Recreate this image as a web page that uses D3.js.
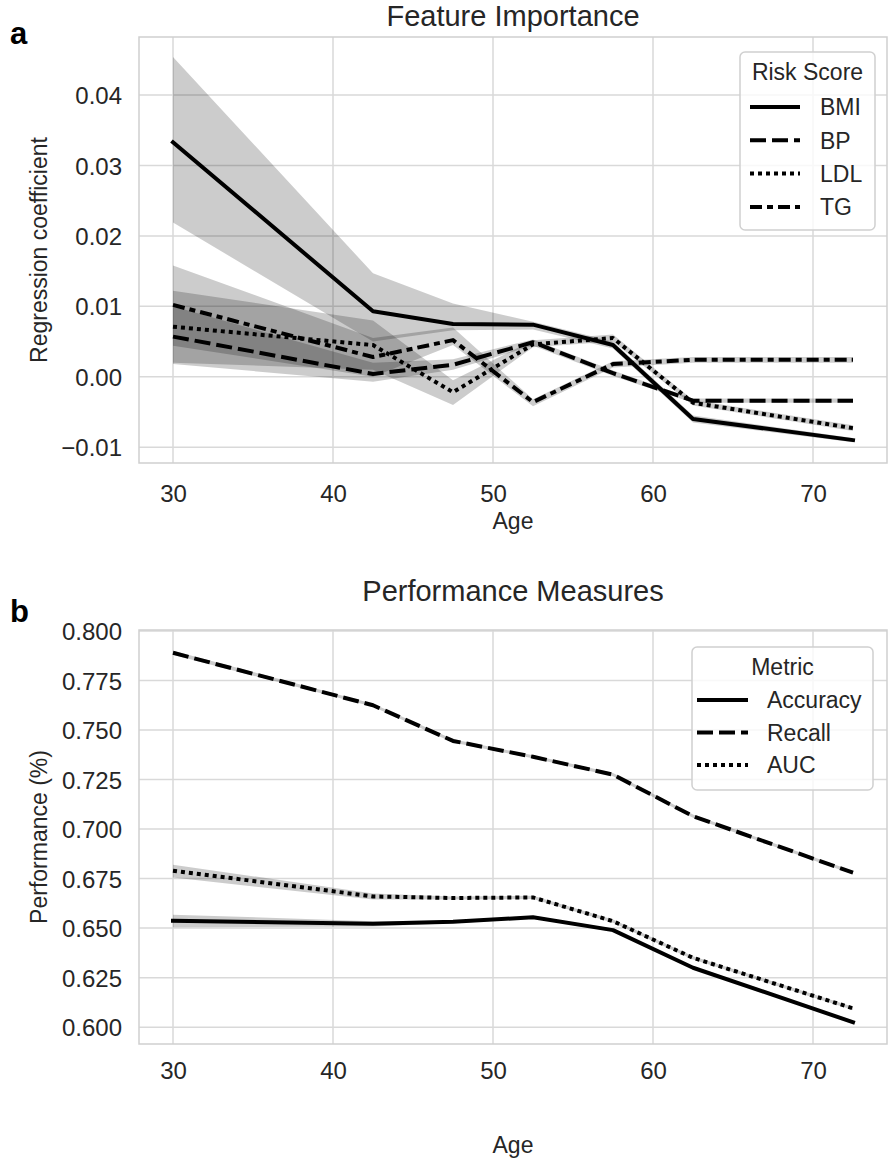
<!DOCTYPE html>
<html><head><meta charset="utf-8">
<script src="https://cdn.jsdelivr.net/npm/d3@7"></script>
<style>body{margin:0;background:#fff}svg{display:block}text{font-family:"Liberation Sans",Arial,sans-serif;fill:#262626}</style>
</head><body>
<script>
// ---------- data ----------
const ages = [30, 42.5, 47.5, 52.5, 57.5, 62.5, 72.5];
const xTicks = [30, 40, 50, 60, 70];

const riskNames = ["BMI", "BP", "LDL", "TG"];
const bmi   = [0.0333, 0.0093, 0.0075, 0.0074, 0.0045, -0.0060, -0.0090];
const bp    = [0.0057, 0.0004, 0.0017, 0.0049, 0.0005, -0.0034, -0.0034];
const ldl   = [0.0071, 0.0045, -0.0022, 0.0046, 0.0055, -0.0037, -0.0073];
const tg    = [0.0102, 0.0028, 0.0052, -0.0036, 0.0018, 0.0024, 0.0024];
const bmiLo = [0.0219, 0.0050, 0.0066, 0.0067, 0.0040, -0.0065, -0.0093];
const bmiHi = [0.0454, 0.0147, 0.0104, 0.0078, 0.0050, -0.0055, -0.0087];
const bpLo  = [0.0018, -0.0007, 0.0010, 0.0044, 0.0001, -0.0037, -0.0037];
const bpHi  = [0.0100, 0.0020, 0.0025, 0.0053, 0.0009, -0.0031, -0.0031];
const ldlLo = [0.0020, 0.0010, -0.0040, 0.0042, 0.0050, -0.0041, -0.0077];
const ldlHi = [0.0122, 0.0080, -0.0005, 0.0052, 0.0060, -0.0033, -0.0069];
const tgLo  = [0.0044, 0.0000, 0.0045, -0.0042, 0.0013, 0.0020, 0.0020];
const tgHi  = [0.0158, 0.0055, 0.0070, -0.0032, 0.0022, 0.0028, 0.0028];
const yTicksA = [-0.01, 0.00, 0.01, 0.02, 0.03, 0.04];

const metricNames = ["Accuracy", "Recall", "AUC"];
const accuracy = [0.6537, 0.6522, 0.6532, 0.6555, 0.6490, 0.6300, 0.6025];
const recall   = [0.7890, 0.7625, 0.7445, 0.7365, 0.7275, 0.7065, 0.6780];
const auc      = [0.6790, 0.6660, 0.6652, 0.6655, 0.6535, 0.6350, 0.6095];
const accLo = [0.6505, 0.6508, 0.6525, 0.6548, 0.6483, 0.6293, 0.6018];
const accHi = [0.6568, 0.6535, 0.6539, 0.6562, 0.6497, 0.6307, 0.6032];
const recLo = [0.7880, 0.7617, 0.7437, 0.7357, 0.7267, 0.7057, 0.6772];
const recHi = [0.7900, 0.7633, 0.7453, 0.7373, 0.7283, 0.7073, 0.6788];
const aucLo = [0.6755, 0.6645, 0.6644, 0.6647, 0.6527, 0.6342, 0.6087];
const aucHi = [0.6820, 0.6675, 0.6660, 0.6663, 0.6543, 0.6358, 0.6103];
const yTicksB = [0.600, 0.625, 0.650, 0.675, 0.700, 0.725, 0.750, 0.775, 0.800];

// ---------- styles ----------
const LW = 4;
const dashes = {solid: null, dash: `${4*LW} ${1.5*LW}`, dot: `${1*LW} ${1*LW}`, dashdot: `${3*LW} ${1.25*LW} ${1.5*LW} ${1.25*LW}`};

const W = 889, H = 1159;
const svg = d3.select("body").append("svg").attr("width", W).attr("height", H);

function panel(cfg) {
  const {left, right, top, bottom, yDomain, yTicks, yFmt, series, title, titleY, ylab, ylabX, letter, letterY, xlabY, tickY, legend} = cfg;
  const x = d3.scaleLinear().domain([27.875, 74.625]).range([left, right]);
  const y = d3.scaleLinear().domain(yDomain).range([bottom, top]);
  const g = svg.append("g");
  const clipId = "clip" + letter;
  svg.append("clipPath").attr("id", clipId).append("rect").attr("x", left).attr("y", top).attr("width", right - left).attr("height", bottom - top);

  // grid
  g.append("g").selectAll("line").data(xTicks).join("line")
    .attr("x1", d => x(d)).attr("x2", d => x(d)).attr("y1", top).attr("y2", bottom)
    .attr("stroke", "#d9d9d9").attr("stroke-width", 1.5);
  g.append("g").selectAll("line").data(yTicks.filter(t => t >= yDomain[0] && t <= yDomain[1])).join("line")
    .attr("x1", left).attr("x2", right).attr("y1", d => y(d)).attr("y2", d => y(d))
    .attr("stroke", "#d9d9d9").attr("stroke-width", 1.5);
  // frame
  g.append("rect").attr("x", left).attr("y", top).attr("width", right - left).attr("height", bottom - top)
    .attr("fill", "none").attr("stroke", "#cfcfcf").attr("stroke-width", 1.5);

  // axes tick labels via d3 axes
  const ax = d3.axisBottom(x).tickValues(xTicks).tickSize(0).tickPadding(0).tickFormat(d3.format("d"));
  const axg = g.append("g").attr("transform", `translate(0,${tickY})`).call(ax);
  axg.select(".domain").remove();
  axg.selectAll("text").attr("font-size", 24).attr("dy", 0).attr("fill", "#262626");
  const ay = d3.axisLeft(y).tickValues(yTicks).tickSize(0).tickPadding(0).tickFormat(yFmt);
  const ayg = g.append("g").attr("transform", `translate(${left - 17},0)`).call(ay);
  ayg.select(".domain").remove();
  ayg.selectAll("text").attr("font-size", 24).attr("dy", "0.36em").attr("fill", "#262626");

  // bands
  const area = d3.area().x(d => x(d.a)).y0(d => y(d.lo)).y1(d => y(d.hi));
  const line = d3.line().x(d => x(d.a)).y(d => y(d.v));
  const pg = g.append("g").attr("clip-path", `url(#${clipId})`);
  series.forEach(s => {
    pg.append("path").datum(ages.map((a, i) => ({a, lo: s.lo[i], hi: s.hi[i]})))
      .attr("d", area).attr("fill", "#000").attr("fill-opacity", 0.2).attr("stroke", "none");
  });
  series.forEach(s => {
    pg.append("path").datum(ages.map((a, i) => ({a, v: s.v[i]})))
      .attr("d", line).attr("fill", "none").attr("stroke", "#000").attr("stroke-width", LW)
      .attr("stroke-dasharray", dashes[s.style]).attr("stroke-linejoin", "round")
      .attr("stroke-linecap", s.style === "solid" ? "square" : "butt");
  });

  // title / labels
  svg.append("text").attr("x", (left + right) / 2).attr("y", titleY).attr("text-anchor", "middle").attr("font-size", 29).text(title);
  svg.append("text").attr("x", (left + right) / 2).attr("y", xlabY).attr("text-anchor", "middle").attr("font-size", 23).text("Age");
  svg.append("text").attr("transform", `translate(${ylabX},${(top + bottom) / 2}) rotate(-90)`).attr("text-anchor", "middle").attr("font-size", 23).text(ylab);
  svg.append("text").attr("x", 10).attr("y", letterY).attr("font-size", 31).attr("font-weight", "bold").style("fill", "#000").text(letter);

  // legend
  const L = legend;
  const lg = svg.append("g");
  lg.append("rect").attr("x", L.x).attr("y", L.y).attr("width", L.w).attr("height", L.h).attr("rx", 5)
    .attr("fill", "#fff").attr("fill-opacity", 0.8).attr("stroke", "#d0d0d0").attr("stroke-width", 1.5);
  lg.append("text").attr("x", L.x + L.w / 2).attr("y", L.titleY).attr("text-anchor", "middle").attr("font-size", 23).text(L.title);
  series.forEach((s, i) => {
    const yy = L.firstY + i * L.step;
    lg.append("line").attr("x1", L.lx1).attr("x2", L.lx2).attr("y1", yy).attr("y2", yy)
      .attr("stroke", "#000").attr("stroke-width", LW).attr("stroke-dasharray", dashes[s.style]);
    lg.append("text").attr("x", L.tx).attr("y", yy).attr("dy", "0.36em").attr("font-size", 23).text(s.name);
  });
}

panel({
  left: 139, right: 887, top: 37, bottom: 463,
  yDomain: [-0.01225, 0.04825], yTicks: yTicksA,
  yFmt: d => (d < 0 ? "\u2212" : "") + d3.format(".2f")(Math.abs(d)),
  series: [
    {name: riskNames[0], v: bmi, lo: bmiLo, hi: bmiHi, style: "solid"},
    {name: riskNames[1], v: bp, lo: bpLo, hi: bpHi, style: "dash"},
    {name: riskNames[2], v: ldl, lo: ldlLo, hi: ldlHi, style: "dot"},
    {name: riskNames[3], v: tg, lo: tgLo, hi: tgHi, style: "dashdot"}
  ],
  title: "Feature Importance", titleY: 26, ylab: "Regression coefficient", ylabX: 47,
  letter: "a", letterY: 44, xlabY: 529, tickY: 502,
  legend: {x: 740, y: 52, w: 135, h: 178, title: "Risk Score", titleY: 80, firstY: 107, step: 33.3, lx1: 750, lx2: 800, tx: 820}
});

panel({
  left: 139, right: 887, top: 630, bottom: 1044,
  yDomain: [0.5915, 0.8005], yTicks: yTicksB,
  yFmt: d3.format(".3f"),
  series: [
    {name: metricNames[0], v: accuracy, lo: accLo, hi: accHi, style: "solid"},
    {name: metricNames[1], v: recall, lo: recLo, hi: recHi, style: "dash"},
    {name: metricNames[2], v: auc, lo: aucLo, hi: aucHi, style: "dot"}
  ],
  title: "Performance Measures", titleY: 601, ylab: "Performance (%)", ylabX: 47,
  letter: "b", letterY: 622, xlabY: 1153, tickY: 1079,
  legend: {x: 692, y: 647, w: 181, h: 143, title: "Metric", titleY: 675, firstY: 700, step: 32.5, lx1: 697, lx2: 748, tx: 767}
});
</script>
</body></html>
